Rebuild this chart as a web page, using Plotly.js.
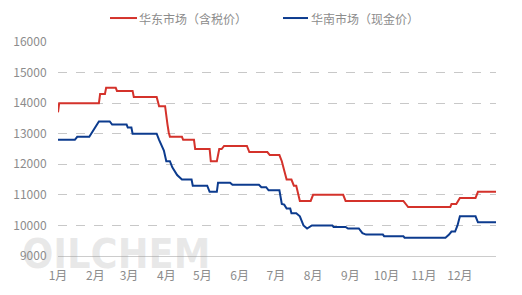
<!DOCTYPE html>
<html>
<head>
<meta charset="utf-8">
<script src="https://cdn.plot.ly/plotly-3.0.1.min.js"></script>
<style>
html,body{margin:0;padding:0;background:#fff;}
#chart{width:522px;height:295px;}
</style>
</head>
<body>
<div id="chart"></div>
<script>
// 华东市场（含税价）
const eastDates = ['2023-01-01','2023-01-02','2023-02-04','2023-02-05','2023-02-09','2023-02-10','2023-02-18','2023-02-19','2023-03-04','2023-03-05','2023-03-24','2023-03-26','2023-03-31','2023-04-01','2023-04-02','2023-04-03','2023-04-04','2023-04-14','2023-04-15','2023-04-24','2023-04-25','2023-05-07','2023-05-08','2023-05-13','2023-05-15','2023-05-17','2023-05-19','2023-06-07','2023-06-09','2023-06-24','2023-06-26','2023-07-04','2023-07-06','2023-07-08','2023-07-10','2023-07-14','2023-07-16','2023-07-18','2023-07-21','2023-07-30','2023-08-01','2023-08-26','2023-08-28','2023-10-15','2023-10-19','2023-11-23','2023-11-24','2023-11-28','2023-12-01','2023-12-14','2023-12-16','2023-12-31'];
const eastValues = [13700,14000,14000,14300,14300,14500,14500,14400,14400,14200,14200,13900,13900,13500,13300,13050,12900,12900,12800,12800,12500,12500,12100,12100,12500,12500,12600,12600,12400,12400,12300,12300,12100,11800,11500,11500,11300,11300,10800,10800,11000,11000,10800,10800,10600,10600,10700,10700,10900,10900,11100,11100];

// 华南市场（现金价）
const southDates = ['2023-01-01','2023-01-15','2023-01-17','2023-01-27','2023-02-04','2023-02-13','2023-02-15','2023-02-27','2023-02-28','2023-03-03','2023-03-04','2023-03-24','2023-03-26','2023-03-28','2023-03-30','2023-04-01','2023-04-04','2023-04-06','2023-04-08','2023-04-10','2023-04-14','2023-04-22','2023-04-23','2023-05-05','2023-05-07','2023-05-13','2023-05-14','2023-05-24','2023-05-26','2023-06-17','2023-06-19','2023-06-23','2023-06-25','2023-07-04','2023-07-06','2023-07-08','2023-07-10','2023-07-13','2023-07-14','2023-07-18','2023-07-21','2023-07-24','2023-07-27','2023-07-31','2023-08-17','2023-08-18','2023-08-28','2023-08-30','2023-09-08','2023-09-11','2023-09-14','2023-09-28','2023-09-29','2023-10-15','2023-10-16','2023-11-19','2023-11-22','2023-11-24','2023-11-27','2023-11-29','2023-12-01','2023-12-14','2023-12-16','2023-12-31'];
const southValues = [12800,12800,12900,12900,13400,13400,13300,13300,13200,13200,13000,13000,12800,12650,12450,12100,12100,11900,11750,11650,11500,11500,11300,11300,11100,11100,11400,11400,11330,11330,11250,11250,11150,11150,10700,10680,10550,10550,10400,10400,10300,10000,9900,10000,10000,9950,9950,9900,9900,9750,9700,9700,9650,9650,9600,9600,9700,9800,9800,10000,10300,10300,10100,10100];

const seriesNames = ['华东市场（含税价）','华南市场（现金价）'];
const seriesColors = ['#d4322b','#0c3b8e'];
const monthTicks = ['2023-01-01','2023-02-01','2023-03-01','2023-04-01','2023-05-01','2023-06-01','2023-07-01','2023-08-01','2023-09-01','2023-10-01','2023-11-01','2023-12-01'];
const monthLabels = ['1月','2月','3月','4月','5月','6月','7月','8月','9月','10月','11月','12月'];
const yTicks = [9000,10000,11000,12000,13000,14000,15000,16000];
const yLabels = ['9000','10000','11000','12000','13000','14000','15000','16000'];

const gray = '#8c8c8c';
const fontFam = '"Noto Sans CJK SC", "Noto Sans", sans-serif';

const traces = [
  {x: eastDates, y: eastValues, name: seriesNames[0], type: 'scatter', mode: 'lines',
   line: {color: seriesColors[0], width: 2}},
  {x: southDates, y: southValues, name: seriesNames[1], type: 'scatter', mode: 'lines',
   line: {color: seriesColors[1], width: 2}}
];

// manual legend (paper coordinates)
const legY = 1.112;
const legItems = [
  {x0: 0.1187, x1: 0.1804, tx: 0.1835},
  {x0: 0.5137, x1: 0.5708, tx: 0.5745}
];
const shapes = legItems.map((it, i) => ({
  type: 'line', xref: 'paper', yref: 'paper', x0: it.x0, x1: it.x1, y0: legY, y1: legY,
  line: {color: seriesColors[i], width: 2}
}));
const annotations = legItems.map((it, i) => ({
  xref: 'paper', yref: 'paper', x: it.tx, y: legY, xanchor: 'left', yanchor: 'middle',
  text: seriesNames[i], showarrow: false, borderpad: 0,
  font: {family: fontFam, size: 12, color: gray}
}));
annotations.unshift({
  xref: 'paper', yref: 'paper', x: -0.0868, y: 0.01, xanchor: 'left', yanchor: 'middle',
  text: '<b>OILCHEM</b>', showarrow: false,
  font: {family: '"DejaVu Sans Condensed", "DejaVu Sans", sans-serif', size: 41, color: 'rgba(150,150,150,0.22)'}
});

const layout = {
  width: 522, height: 295,
  margin: {l: 58, r: 26, t: 42, b: 39},
  paper_bgcolor: '#fff', plot_bgcolor: '#fff',
  font: {family: fontFam, size: 12, color: gray},
  showlegend: false,
  xaxis: {type: 'date', range: ['2023-01-01','2023-12-31'],
          tickvals: monthTicks, ticktext: monthLabels,
          showgrid: false, zeroline: false,
          showline: true, linecolor: '#cccccc', linewidth: 1,
          ticks: 'outside', ticklen: 9, tickcolor: 'rgba(0,0,0,0)',
          tickfont: {family: fontFam, size: 12, color: gray}},
  yaxis: {range: [9000, 16000], tickvals: yTicks, ticktext: yLabels,
          showgrid: true, gridcolor: '#c8c8c8', griddash: 'dash', gridwidth: 1,
          zeroline: false, showline: false,
          ticks: 'outside', ticklen: 8, tickcolor: 'rgba(0,0,0,0)',
          tickfont: {family: fontFam, size: 12, color: gray}},
  shapes: shapes,
  annotations: annotations
};

Plotly.newPlot('chart', traces, layout, {displayModeBar: false, staticPlot: true});
</script>
</body>
</html>
